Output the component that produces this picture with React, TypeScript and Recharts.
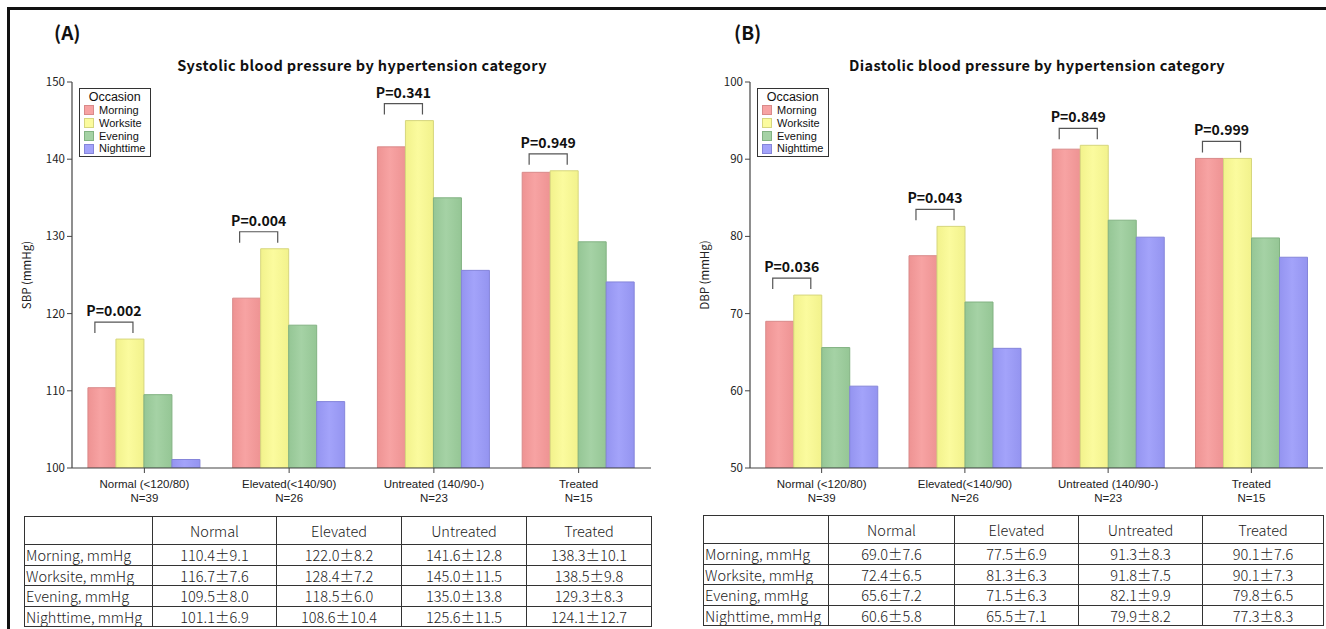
import React from 'react';
import { BarChart, Bar, XAxis, YAxis, Legend, LabelList } from 'recharts';

const categories = ['Normal (<120/80)', 'Elevated(<140/90)', 'Untreated (140/90-)', 'Treated'];
const groupN = ['N=39', 'N=26', 'N=23', 'N=15'];
const tableHeaders = ['Normal', 'Elevated', 'Untreated', 'Treated'];
const occasions = ['Morning', 'Worksite', 'Evening', 'Nighttime'];

const sbpMorning = [110.4, 122.0, 141.6, 138.3];
const sbpWorksite = [116.7, 128.4, 145.0, 138.5];
const sbpEvening = [109.5, 118.5, 135.0, 129.3];
const sbpNight = [101.1, 108.6, 125.6, 124.1];
const sbpMorningSd = [9.1, 8.2, 12.8, 10.1];
const sbpWorksiteSd = [7.6, 7.2, 11.5, 9.8];
const sbpEveningSd = [8.0, 6.0, 13.8, 8.3];
const sbpNightSd = [6.9, 10.4, 11.5, 12.7];
const sbpP = ['0.002', '0.004', '0.341', '0.949'];
const sbpTicks = [100, 110, 120, 130, 140, 150];

const dbpMorning = [69.0, 77.5, 91.3, 90.1];
const dbpWorksite = [72.4, 81.3, 91.8, 90.1];
const dbpEvening = [65.6, 71.5, 82.1, 79.8];
const dbpNight = [60.6, 65.5, 79.9, 77.3];
const dbpMorningSd = [7.6, 6.9, 8.3, 7.6];
const dbpWorksiteSd = [6.5, 6.3, 7.5, 7.3];
const dbpEveningSd = [7.2, 6.3, 9.9, 6.5];
const dbpNightSd = [5.8, 7.1, 8.2, 8.3];
const dbpP = ['0.036', '0.043', '0.849', '0.999'];
const dbpTicks = [50, 60, 70, 80, 90, 100];

const fills = ['#F7A3A3', '#FBFB9E', '#A5D2A5', '#A3A3FA'];
const edgeFills = ['#EE9393', '#F2F28C', '#95C695', '#9494F0'];
const strokes = ['#D98A8A', '#D6D67E', '#82B282', '#8585DA'];

const FONT = "'Noto Sans CJK JP', 'Noto Sans', sans-serif";
const TICK_FONT = "'Liberation Sans', Arial, sans-serif";

const buildRows = (m: number[], w: number[], e: number[], n: number[]) =>
  categories.map((c, i) => ({ name: c, Morning: m[i], Worksite: w[i], Evening: e[i], Nighttime: n[i] }));

const XTick = (props: any) => {
  const { x, y, payload } = props;
  const idx = payload.index ?? categories.indexOf(payload.value);
  return (
    <g>
      <text x={x} y={y + 13} textAnchor="middle" fontSize={11.5} fill="#222" fontFamily={TICK_FONT}>{payload.value}</text>
      <text x={x} y={y + 27} textAnchor="middle" fontSize={11.5} fill="#222" fontFamily={TICK_FONT}>{groupN[idx]}</text>
    </g>
  );
};

const OccasionLegend = () => (
  <div style={{ border: '1.5px solid #333', background: '#fff', padding: '1px 5px 1px 4px', fontFamily: TICK_FONT, fontSize: 11, lineHeight: '12.8px', color: '#111' }}>
    <div style={{ fontSize: 12.5, textAlign: 'center', lineHeight: '14px' }}>Occasion</div>
    {occasions.map((o, i) => (
      <div key={o} style={{ display: 'flex', alignItems: 'center' }}>
        <span style={{ display: 'inline-block', width: 8, height: 8, background: fills[i], border: `1px solid ${strokes[i]}`, marginRight: 5 }} />
        <span>{o}</span>
      </div>
    ))}
  </div>
);

const makeBracket = (pvals: string[]) => (props: any) => {
  const x = Number(props.x);
  const y = Number(props.y);
  const width = Number(props.width);
  const index = props.index;
  const cx = x - 2;
  const half = width * 0.68;
  const top = y - 17;
  const leg = y - 6;
  return (
    <g>
      <path d={`M${cx - half},${leg}V${top}H${cx + half}V${leg}`} stroke="#555" strokeWidth={1.2} fill="none" />
      <text x={cx} y={top - 6} textAnchor="middle" fontSize={14} fontWeight="bold" fill="#111" fontFamily={FONT}>{`P=${pvals[index]}`}</text>
    </g>
  );
};

type PanelProps = {
  id: string;
  left: number;
  width: number;
  marginLeft: number;
  marginRight: number;
  data: any[];
  ticks: number[];
  yLabel: string;
  pvals: string[];
  legendLeft: number;
};

const Panel = ({ id, left, width, marginLeft, marginRight, data, ticks, yLabel, pvals, legendLeft }: PanelProps) => (
  <div style={{ position: 'absolute', left, top: 0 }}>
    <BarChart width={width} height={520} data={data} margin={{ top: 82, left: marginLeft, right: marginRight, bottom: 12 }} barCategoryGap="11%" barGap={0}>
      <defs>
        {occasions.map((o, i) => (
          <linearGradient key={o} id={`${id}-g${i}`} x1="0" y1="0" x2="1" y2="0">
            <stop offset="0%" stopColor={edgeFills[i]} />
            <stop offset="45%" stopColor={fills[i]} />
            <stop offset="100%" stopColor={edgeFills[i]} />
          </linearGradient>
        ))}
      </defs>
      <XAxis dataKey="name" tick={<XTick />} tickSize={5} height={40} interval={0} axisLine={{ stroke: '#444', strokeWidth: 1.2 }} tickLine={{ stroke: '#444' }} />
      <XAxis xAxisId="top" orientation="top" dataKey="name" tick={false} tickLine={false} height={0} axisLine={{ stroke: '#444', strokeWidth: 1.2 }} />
      <YAxis
        domain={[ticks[0], ticks[ticks.length - 1]]}
        ticks={ticks}
        allowDataOverflow
        width={30}
        tickSize={5}
        tick={{ fontSize: 11.5, fill: '#222', fontFamily: FONT }}
        axisLine={{ stroke: '#444', strokeWidth: 1.2 }}
        tickLine={{ stroke: '#444' }}
        label={{
          content: (p: any) => {
            const vb = p.viewBox || { x: 0, y: 0, width: 0, height: 0 };
            const cx = vb.x - 14;
            const cy = vb.y + vb.height / 2;
            return (
              <text x={cx} y={cy} transform={`rotate(-90 ${cx} ${cy})`} textAnchor="middle" dominantBaseline="middle" fontSize={11.5} fill="#222" fontFamily={FONT}>{yLabel}</text>
            );
          },
        }}
      />
      <YAxis yAxisId="right" orientation="right" domain={[ticks[0], ticks[ticks.length - 1]]} width={0} tick={false} tickLine={false} axisLine={{ stroke: '#444', strokeWidth: 1.2 }} />
      <Legend
        layout="vertical"
        align="center"
        verticalAlign="middle"
        content={<OccasionLegend />}
        wrapperStyle={{ left: legendLeft, top: 88, width: 'auto', height: 'auto' }}
      />
      {occasions.map((o, i) => (
        <Bar key={o} dataKey={o} name={o} fill={`url(#${id}-g${i})`} stroke={strokes[i]} strokeWidth={1} isAnimationActive={false}>
          {o === 'Worksite' ? <LabelList dataKey={o} content={makeBracket(pvals)} /> : null}
        </Bar>
      ))}
    </BarChart>
  </div>
);

type TableProps = {
  left: number;
  top: number;
  colWidths: number[];
  rows: { label: string; vals: number[]; sds: number[] }[];
};

const cellBorder = '1px solid #333';

const StatTable = ({ left, top, colWidths, rows }: TableProps) => (
  <table
    style={{
      position: 'absolute',
      left,
      top,
      borderCollapse: 'collapse',
      tableLayout: 'fixed',
      width: colWidths.reduce((a, b) => a + b, 0),
      fontFamily: FONT,
      fontSize: 14.5,
      color: '#222',
      fontWeight: 300,
    }}
  >
    <colgroup>
      {colWidths.map((w, i) => (
        <col key={i} style={{ width: w }} />
      ))}
    </colgroup>
    <tbody>
      <tr style={{ height: 28 }}>
        <td style={{ border: cellBorder, padding: 0 }} />
        {tableHeaders.map((h) => (
          <td key={h} style={{ border: cellBorder, padding: 0, textAlign: 'center' }}>{h}</td>
        ))}
      </tr>
      {rows.map((r) => (
        <tr key={r.label} style={{ height: 20.5 }}>
          <td style={{ border: cellBorder, padding: '0 0 0 1px', textAlign: 'left', lineHeight: '19px', whiteSpace: 'nowrap', overflow: 'hidden' }}>{r.label}</td>
          {r.vals.map((v, i) => (
            <td key={i} style={{ border: cellBorder, padding: 0, textAlign: 'center', lineHeight: '19px', whiteSpace: 'nowrap' }}>
              {`${v.toFixed(1)}±${r.sds[i].toFixed(1)}`}
            </td>
          ))}
        </tr>
      ))}
    </tbody>
  </table>
);

const sbpRows = [
  { label: 'Morning, mmHg', vals: sbpMorning, sds: sbpMorningSd },
  { label: 'Worksite, mmHg', vals: sbpWorksite, sds: sbpWorksiteSd },
  { label: 'Evening, mmHg', vals: sbpEvening, sds: sbpEveningSd },
  { label: 'Nighttime, mmHg', vals: sbpNight, sds: sbpNightSd },
];
const dbpRows = [
  { label: 'Morning, mmHg', vals: dbpMorning, sds: dbpMorningSd },
  { label: 'Worksite, mmHg', vals: dbpWorksite, sds: dbpWorksiteSd },
  { label: 'Evening, mmHg', vals: dbpEvening, sds: dbpEveningSd },
  { label: 'Nighttime, mmHg', vals: dbpNight, sds: dbpNightSd },
];

const titleStyle: React.CSSProperties = {
  position: 'absolute',
  top: 54,
  fontFamily: FONT,
  fontSize: 14.5,
  fontWeight: 'bold',
  color: '#111',
  whiteSpace: 'nowrap',
  transform: 'translateX(-50%)',
  letterSpacing: 0.4,
};
const letterStyle: React.CSSProperties = {
  position: 'absolute',
  top: 18,
  fontFamily: FONT,
  fontSize: 19,
  fontWeight: 600,
  color: '#111',
};

export default function App() {
  const sbpData = buildRows(sbpMorning, sbpWorksite, sbpEvening, sbpNight);
  const dbpData = buildRows(dbpMorning, dbpWorksite, dbpEvening, dbpNight);
  return (
    <div style={{ position: 'absolute', left: 0, top: 0, width: 1326, height: 629, background: '#fff', overflow: 'hidden' }}>
      <div style={{ position: 'absolute', left: 7, top: 7, width: 1319, height: 3, background: '#111' }} />
      <div style={{ position: 'absolute', left: 7, top: 7, width: 3, height: 622, background: '#111' }} />

      <div style={{ ...letterStyle, left: 54 }}>(A)</div>
      <div style={{ ...letterStyle, left: 734 }}>(B)</div>
      <div style={{ ...titleStyle, left: 362 }}>Systolic blood pressure by hypertension category</div>
      <div style={{ ...titleStyle, left: 1037 }}>Diastolic blood pressure by hypertension category</div>

      <Panel id="sbp" left={0} width={663} marginLeft={42} marginRight={12} data={sbpData} ticks={sbpTicks} yLabel="SBP (mmHg)" pvals={sbpP} legendLeft={79} />
      <Panel id="dbp" left={663} width={663} marginLeft={57} marginRight={3} data={dbpData} ticks={dbpTicks} yLabel="DBP (mmHg)" pvals={dbpP} legendLeft={94} />

      <StatTable left={24} top={516} colWidths={[128, 124, 125, 125, 125]} rows={sbpRows} />
      <StatTable left={703} top={515} colWidths={[125, 126, 124, 124, 121]} rows={dbpRows} />
    </div>
  );
}
